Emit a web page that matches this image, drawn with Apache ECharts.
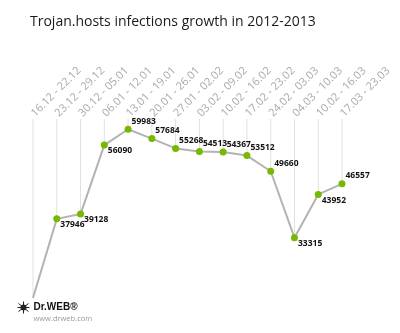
<!DOCTYPE html>
<html>
<head>
<meta charset="utf-8">
<script src="https://cdn.jsdelivr.net/npm/echarts@6/dist/echarts.min.js"></script>
<style>
  html, body { margin: 0; padding: 0; background: #fff; }
  #chart { width: 400px; height: 333px; }
</style>
</head>
<body>
<div id="chart"></div>
<script>
// Weekly periods (x axis, shown along the top)
const weeks = [
  '16.12 - 22.12', '23.12 - 29.12', '30.12 - 05.01', '06.01 - 12.01',
  '13.01 - 19.01', '20.01 - 26.01', '27.01 - 02.02', '03.02 - 09.02',
  '10.02 - 16.02', '17.02 - 23.02', '24.02 - 03.03', '04.03 - 10.03',
  '10.02 - 16.03', '17.03 - 23.03'
];

// Number of Trojan.hosts infections per week
const infections = [
  18500, 37946, 39128, 56090, 59983, 57684, 55268,
  54513, 54367, 53512, 49660, 33315, 43952, 46557
];

// Which labels sit under the point rather than above it
const labelBelow = [
  false, true, true, true, false, false, false,
  false, false, false, false, true, true, false
];

const yMin = 18000;
const yMax = 62500;

const chart = echarts.init(document.getElementById('chart'), null, { renderer: 'canvas' });

const lineData = infections.map((v, i) => ({
  value: v,
  symbol: i === 0 ? 'none' : 'circle',
  label: {
    show: i !== 0,
    offset: labelBelow[i] ? [0, 6] : [0, -8]
  }
}));

chart.setOption({
  animation: false,
  backgroundColor: '#ffffff',
  title: {
    text: 'Trojan.hosts infections growth in 2012-2013',
    left: 25,
    top: 10,
    textStyle: {
      fontFamily: 'Open Sans',
      fontWeight: 'normal',
      fontSize: 14,
      color: '#1a1a1a'
    }
  },
  grid: { left: 33, right: 58, top: 119, height: 181, containLabel: false, outerBoundsMode: 'none' },
  xAxis: {
    type: 'category',
    position: 'top',
    data: weeks,
    boundaryGap: false,
    axisLine: { show: false },
    axisTick: { show: false },
    splitLine: { show: false },
    axisLabel: {
      rotate: -45,
      margin: 4,
      interval: 0,
      color: '#a8a8a8',
      fontFamily: 'Open Sans',
      fontSize: 11
    }
  },
  yAxis: {
    type: 'value',
    min: yMin,
    max: yMax,
    show: false
  },
  series: [
    {
      // thin drop lines from the top of the plot to each point
      type: 'custom',
      data: infections.map((v, i) => [i, v]),
      z: 1,
      silent: true,
      clip: false,
      renderItem: function (params, api) {
        const p = api.coord([api.value(0), api.value(1)]);
        const t = api.coord([api.value(0), yMax]);
        return {
          type: 'line',
          shape: { x1: p[0], y1: t[1], x2: p[0], y2: p[1] },
          style: { stroke: '#e0e0e0', lineWidth: 1 }
        };
      }
    },
    {
      type: 'line',
      data: lineData,
      z: 3,
      clip: false,
      symbolSize: 7,
      lineStyle: { color: '#b3b3b3', width: 2 },
      itemStyle: { color: '#77b800', borderWidth: 0 },
      label: {
        show: true,
        position: 'right',
        distance: 0,
        color: '#111',
        fontFamily: 'Open Sans',
        fontWeight: 'bold',
        fontSize: 8.5
      }
    }
  ],
  graphic: [
    {
      type: 'group',
      left: 15,
      top: 299,
      z: 10,
      children: [
        { type: 'rect', shape: { x: -2, y: -2, width: 66, height: 14 }, style: { fill: '#fff' } },
        { type: 'circle', shape: { cx: 6, cy: 6, r: 3 }, style: { fill: '#222' } },
        { type: 'line', shape: { x1: 1, y1: 2, x2: 11, y2: 10 }, style: { stroke: '#222', lineWidth: 1 } },
        { type: 'line', shape: { x1: 1, y1: 10, x2: 11, y2: 2 }, style: { stroke: '#222', lineWidth: 1 } },
        { type: 'line', shape: { x1: 0, y1: 6, x2: 12, y2: 6 }, style: { stroke: '#222', lineWidth: 1 } },
        { type: 'line', shape: { x1: 6, y1: 0, x2: 6, y2: 12 }, style: { stroke: '#222', lineWidth: 1 } },
        {
          type: 'text', x: 16, y: 1,
          style: { text: 'Dr.WEB®', fill: '#111', font: 'bold 10px "Liberation Sans"' }
        },
        {
          type: 'text', x: 16, y: 13,
          style: { text: 'www.drweb.com', fill: '#999', font: '7.5px "Open Sans"' }
        }
      ]
    }
  ]
});
</script>
</body>
</html>
